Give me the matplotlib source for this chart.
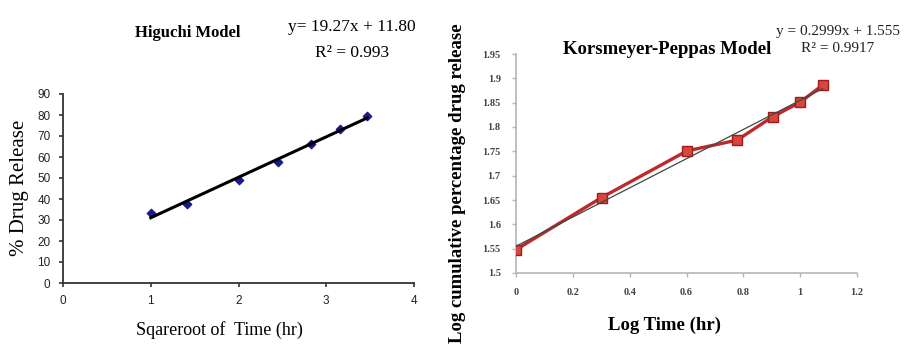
import matplotlib
matplotlib.use("Agg")
import matplotlib.pyplot as plt

# Higuchi model data
sqrt_time = [1.0, 1.414, 2.0, 2.449, 2.828, 3.162, 3.464]
drug_release = [33.3, 37.8, 49.0, 57.8, 66.2, 73.2, 79.4]
higuchi_slope, higuchi_icpt = 19.27, 11.80

# Korsmeyer-Peppas model data
log_time = [0.0, 0.301, 0.602, 0.778, 0.903, 1.0, 1.079]
log_release = [1.548, 1.655, 1.751, 1.773, 1.821, 1.851, 1.886]
kp_slope, kp_icpt = 0.2999, 1.555

higuchi_xticks = [0, 1, 2, 3, 4]
higuchi_yticks = list(range(0, 100, 10))
kp_xticks = [0, 0.2, 0.4, 0.6, 0.8, 1, 1.2]
kp_xlabels = ["0", "0.2", "0.4", "0.6", "0.8", "1", "1.2"]
kp_yticks = [1.5, 1.55, 1.6, 1.65, 1.7, 1.75, 1.8, 1.85, 1.9, 1.95]
kp_ylabels = ["1.5", "1.55", "1.6", "1.65", "1.7", "1.75", "1.8", "1.85", "1.9", "1.95"]

serif = ["Liberation Serif", "DejaVu Serif"]
narrow = ["Liberation Sans Narrow", "Liberation Sans", "DejaVu Sans"]

W, H = 906, 352
fig = plt.figure(figsize=(W / 100, H / 100), dpi=100)


def fx(px):
    return px / W


def fy(py):
    return 1 - py / H


# ---- left panel: Higuchi ----
ax1 = fig.add_axes([fx(63), fy(283), fx(414 - 63), (283 - 94) / H])
ax1.scatter(sqrt_time, drug_release, marker="D", s=18, color="#1a1a8c", zorder=3)
fit_x = [sqrt_time[0], sqrt_time[-1]]
fit_y = [higuchi_slope * v + higuchi_icpt for v in fit_x]
ax1.plot(fit_x, fit_y, color="black", lw=2.2, zorder=4)
ax1.set_xlim(0, 4)
ax1.set_ylim(0, 90)
ax1.set_xticks(higuchi_xticks)
ax1.set_yticks(higuchi_yticks)
for s in ["top", "right"]:
    ax1.spines[s].set_visible(False)
for s in ["left", "bottom"]:
    ax1.spines[s].set_color("#333333")
    ax1.spines[s].set_linewidth(1.3)
ax1.tick_params(direction="out", length=3, width=1.2, color="#333333",
                labelsize=8.5, labelcolor="#222222", pad=6)
for lbl in ax1.get_xticklabels() + ax1.get_yticklabels():
    lbl.set_family(narrow)
fig.text(fx(20), fy(188), "% Drug Release", family=serif, fontsize=15,
         rotation=90, ha="center", va="center")
fig.text(fx(219), fy(330), "Sqareroot of  Time (hr)", family=serif, fontsize=13,
         ha="center", va="center")
fig.text(fx(188), fy(33), "Higuchi Model", family=serif, fontsize=12,
         fontweight="bold", ha="center", va="center")
fig.text(fx(352), fy(27), "y= 19.27x + 11.80", family=serif, fontsize=12.5,
         ha="center", va="center")
fig.text(fx(352), fy(53), "R² = 0.993", family=serif, fontsize=12.5,
         ha="center", va="center")

# ---- right panel: Korsmeyer-Peppas ----
ax2 = fig.add_axes([fx(516), fy(273), fx(857 - 516), (273 - 54) / H])
ax2.plot(log_time, log_release, color="#c0282a", lw=2.4, marker="s", ms=7,
         mfc="#d8463f", mec="#a01c1c", zorder=3)
kp_fit_x = [log_time[0], log_time[-1]]
kp_fit_y = [kp_slope * v + kp_icpt for v in kp_fit_x]
ax2.plot(kp_fit_x, kp_fit_y, color="#3a4a44", lw=0.9, zorder=4)
ax2.set_xlim(0, 1.2)
ax2.set_ylim(1.5, 1.95)
ax2.set_xticks(kp_xticks)
ax2.set_xticklabels(kp_xlabels)
ax2.set_yticks(kp_yticks)
ax2.set_yticklabels(kp_ylabels)
for s in ["top", "right"]:
    ax2.spines[s].set_visible(False)
for s in ["left", "bottom"]:
    ax2.spines[s].set_color("#b5b5b5")
    ax2.spines[s].set_linewidth(1.2)
ax2.tick_params(direction="out", length=3, width=1, color="#b5b5b5",
                labelsize=7.5, labelcolor="#444444", pad=8)
for lbl in ax2.get_xticklabels() + ax2.get_yticklabels():
    lbl.set_family(serif)
    lbl.set_fontweight("bold")
fig.text(fx(457), fy(183), "Log cumulative percentage drug release", family=serif,
         fontsize=13.5, fontweight="bold", rotation=90, ha="center", va="center")
fig.text(fx(664), fy(325), "Log Time (hr)", family=serif, fontsize=13.5,
         fontweight="bold", ha="center", va="center")
fig.text(fx(667), fy(50), "Korsmeyer-Peppas Model", family=serif, fontsize=13.5,
         fontweight="bold", ha="center", va="center")
fig.text(fx(838), fy(31), "y = 0.2999x + 1.555", family=serif, fontsize=11,
         ha="center", va="center", color="#222222")
fig.text(fx(838), fy(48), "R² = 0.9917", family=serif, fontsize=11,
         ha="center", va="center", color="#222222")

fig.savefig("out.png", dpi=100)
